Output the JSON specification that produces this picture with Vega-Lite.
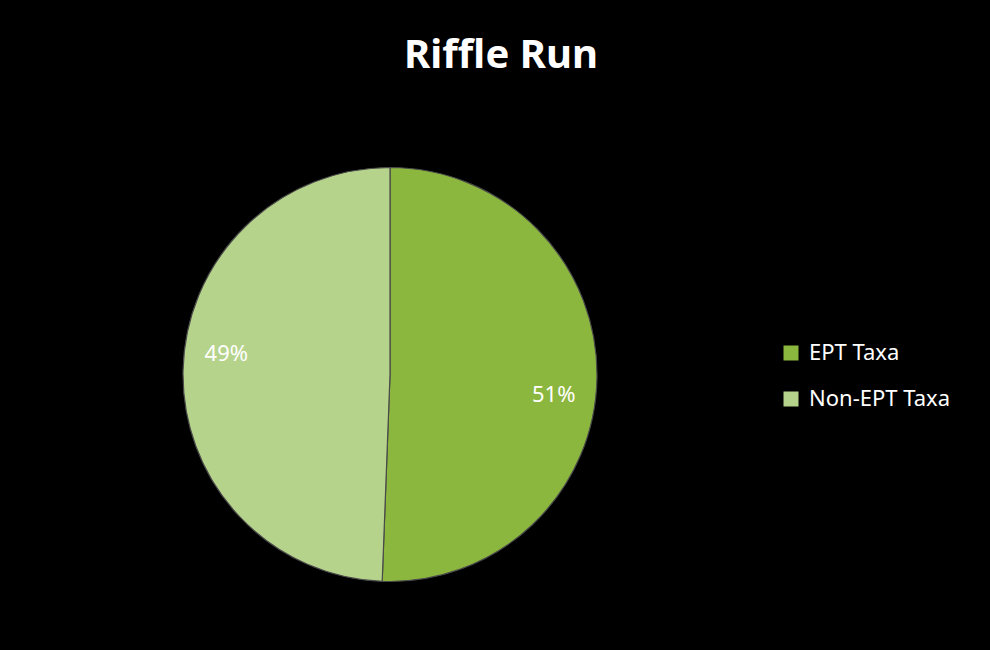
{
  "$schema": "https://vega.github.io/schema/vega-lite/v6.json",
  "width": 420,
  "height": 415,
  "autosize": {"type": "none"},
  "padding": {"left": 180, "top": 167, "right": 390, "bottom": 68},
  "background": "#000000",
  "config": {"view": {"stroke": null}},
  "title": {
    "text": "Riffle Run",
    "font": "Noto Sans",
    "fontSize": 40,
    "fontWeight": "bold",
    "color": "#ffffff",
    "anchor": "middle",
    "frame": "group",
    "dx": 111,
    "offset": 89
  },
  "data": {
    "values": [
      {"category": "EPT Taxa", "share": 0.506},
      {"category": "Non-EPT Taxa", "share": 0.494}
    ]
  },
  "layer": [
    {
      "mark": {"type": "arc", "radius": 207, "stroke": "#4a4a4a", "strokeWidth": 1.2},
      "encoding": {
        "theta": {"field": "share", "type": "quantitative", "stack": true},
        "color": {
          "field": "category",
          "type": "nominal",
          "scale": {"domain": ["EPT Taxa", "Non-EPT Taxa"], "range": ["#8cb73e", "#b6d38b"]},
          "legend": {
            "title": null,
            "orient": "none",
            "legendX": 600,
            "legendY": 175,
            "symbolType": "square",
            "symbolSize": 225,
            "symbolStrokeWidth": 0,
            "symbolOpacity": 1,
            "labelFont": "Noto Sans",
            "labelFontSize": 22,
            "labelColor": "#ffffff",
            "labelOffset": 7,
            "rowPadding": 24
          }
        }
      }
    },
    {
      "mark": {"type": "text", "radius": 165, "thetaOffset": 0.105, "font": "Noto Sans", "fontSize": 22, "color": "#ffffff"},
      "encoding": {
        "theta": {"field": "share", "type": "quantitative", "stack": true},
        "order": {"field": "category"},
        "text": {"field": "share", "type": "quantitative", "format": ".0%"}
      }
    }
  ]
}
